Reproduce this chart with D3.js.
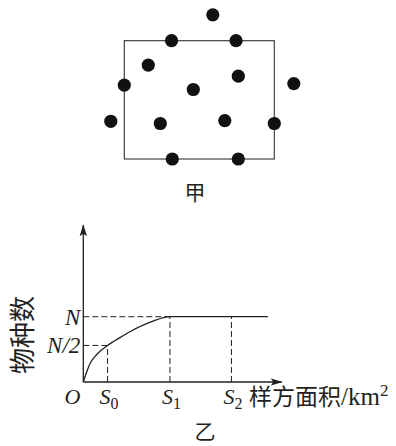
<!DOCTYPE html>
<html>
<head>
<meta charset="utf-8">
<script src="https://cdn.jsdelivr.net/npm/d3@7"></script>
<style>
  body { margin: 0; background: #fff; }
  text { fill: #231f20; }
</style>
</head>
<body>
<script>
// quadrat (甲): dot positions in quadrat units, 10 wide x 8 tall
var dotU = [5.9, 3.15, 7.45, 1.6, 7.6, 0, 11.3, 4.6, -0.9, 2.4, 6.7, 10, 3.2, 7.6];
var dotV = [-1.75, 0, 0, 1.65, 2.4, 3.0, 2.9, 3.3, 5.45, 5.6, 5.4, 5.6, 8, 8];

// species-area curve (乙): x in units of S1, y in units of N
var curveX = [0, 0.039, 0.077, 0.135, 0.193, 0.28, 0.423, 0.539, 0.789, 1, 2.13];
var curveY = [0, 0.153, 0.28, 0.39, 0.47, 0.56, 0.68, 0.77, 0.923, 1, 1];
var xTickNames = ["S", "S", "S"];
var xTickSubs = ["0", "1", "2"];
var xTickVals = [0.28, 1, 1.71];
var yTickNames = ["N", "N/2"];
var yTickVals = [1, 0.56];

var ink = '#231f20';
var serif = '"Liberation Serif", "DejaVu Serif", serif';
var cjk = '"Noto Sans CJK SC", sans-serif';

var svg = d3.select("body")
    .append("svg")
        .attr("width", 396)
        .attr("height", 446);

// ---------- 甲 ----------
var qx = d3.scaleLinear().domain([0, 10]).range([124.3, 274.3]);
var qy = d3.scaleLinear().domain([0, 8]).range([40.7, 159]);

svg.append("rect")
    .attr("x", qx(0))
    .attr("y", qy(0))
    .attr("width", qx(10) - qx(0))
    .attr("height", qy(8) - qy(0))
    .style("fill", "none")
    .style("stroke", "#333")
    .style("stroke-width", 1.1);

svg.selectAll(".dot")
    .data(dotU)
    .enter().append("circle")
        .attr("class", "dot")
        .attr("cx", function(d) { return qx(d); })
        .attr("cy", function(d, i) { return qy(dotV[i]); })
        .attr("r", 6.6)
        .style("fill", "#111");

svg.append("text")
    .text("甲")
    .attr("x", 195)
    .attr("y", 200)
    .attr("text-anchor", "middle")
    .style("font-family", cjk)
    .style("font-size", "21px");

// ---------- 乙 ----------
var x = d3.scaleLinear().domain([0, 2.29]).range([83.3, 281.7]);
var y = d3.scaleLinear().domain([0, 2.4]).range([382, 225.3]);

svg.append("defs").append("marker")
    .attr("id", "arrow")
    .attr("viewBox", "0 0 12 8")
    .attr("refX", 11)
    .attr("refY", 4)
    .attr("markerWidth", 12)
    .attr("markerHeight", 8)
    .attr("markerUnits", "userSpaceOnUse")
    .attr("orient", "auto")
  .append("path")
    .attr("d", "M0,0.3 L12,4 L0,7.7 L2.5,4 Z")
    .style("fill", ink);

// dashed guides
var dash = svg.append("g")
    .style("stroke", ink)
    .style("stroke-width", 1)
    .style("stroke-dasharray", "6,3");

yTickVals.forEach(function(v, i) {
    dash.append("line")
        .attr("x1", x(0))
        .attr("x2", x(i == 0 ? xTickVals[1] : xTickVals[0]))
        .attr("y1", y(v))
        .attr("y2", y(v));
});
xTickVals.forEach(function(v, i) {
    dash.append("line")
        .attr("x1", x(v))
        .attr("x2", x(v))
        .attr("y1", y(0))
        .attr("y2", y(i == 0 ? yTickVals[1] : yTickVals[0]));
});

// axes
svg.append("line")
    .attr("x1", x(0)).attr("y1", y(0))
    .attr("x2", x(2.29)).attr("y2", y(0))
    .style("stroke", ink)
    .style("stroke-width", 1.3)
    .attr("marker-end", "url(#arrow)");
svg.append("line")
    .attr("x1", x(0)).attr("y1", y(0))
    .attr("x2", x(0)).attr("y2", y(2.4))
    .style("stroke", ink)
    .style("stroke-width", 1.3)
    .attr("marker-end", "url(#arrow)");

// curve
var line = d3.line()
    .x(function(d) { return x(d); })
    .y(function(d, i) { return y(curveY[i]); })
    .curve(d3.curveMonotoneX);

svg.append("path")
    .datum(curveX)
    .attr("d", line)
    .style("fill", "none")
    .style("stroke", ink)
    .style("stroke-width", 1.3);

// y tick labels
yTickVals.forEach(function(v, i) {
    svg.append("text")
        .text(yTickNames[i])
        .attr("x", x(0) - 3)
        .attr("y", y(v) + 8)
        .attr("text-anchor", "end")
        .style("font-family", serif)
        .style("font-style", "italic")
        .style("font-size", "23px");
});

// x tick labels
xTickVals.forEach(function(v, i) {
    var t = svg.append("text")
        .attr("x", x(v) - 8)
        .attr("y", 404)
        .style("font-family", serif)
        .style("font-size", "22px");
    t.append("tspan")
        .text(xTickNames[i])
        .style("font-style", "italic");
    t.append("tspan")
        .text(xTickSubs[i])
        .attr("dy", 5)
        .style("font-size", "16px");
});

svg.append("text")
    .text("O")
    .attr("x", 72.5)
    .attr("y", 404)
    .attr("text-anchor", "middle")
    .style("font-family", serif)
    .style("font-style", "italic")
    .style("font-size", "22px");

// x axis title
var xt = svg.append("text")
    .attr("x", 249)
    .attr("y", 405);
xt.append("tspan")
    .text("样方面积")
    .style("font-family", cjk)
    .style("font-size", "23px");
xt.append("tspan")
    .text("/km")
    .style("font-family", serif)
    .style("font-size", "25px");
xt.append("tspan")
    .text("2")
    .attr("dy", -9)
    .style("font-family", serif)
    .style("font-size", "17px");

// y axis title
svg.append("text")
    .text("物种数")
    .attr("transform", "translate(32," + 335 + ") rotate(-90)")
    .attr("text-anchor", "middle")
    .style("font-family", cjk)
    .style("font-size", "26px");

svg.append("text")
    .text("乙")
    .attr("x", 205)
    .attr("y", 439)
    .attr("text-anchor", "middle")
    .style("font-family", cjk)
    .style("font-size", "21px");
</script>
</body>
</html>
